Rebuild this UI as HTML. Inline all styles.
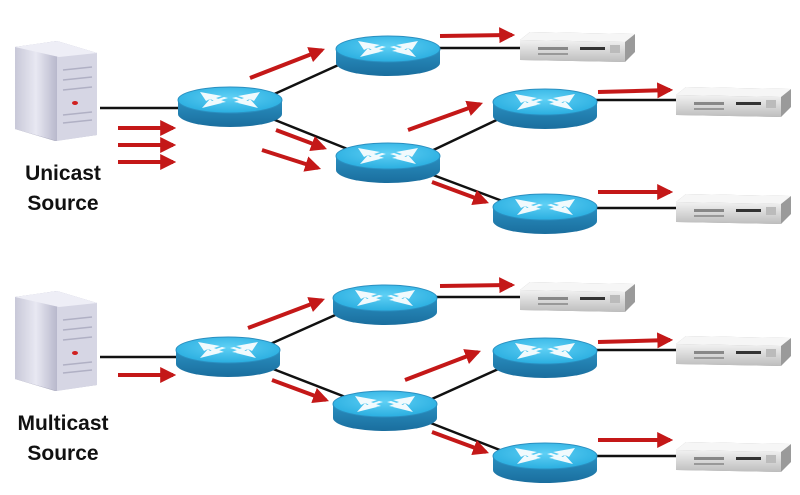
<!DOCTYPE html>
<html><head><meta charset="utf-8"><style>
html,body{margin:0;padding:0;background:#fff;}
svg{display:block;}
text{font-family:"Liberation Sans",sans-serif;font-weight:bold;font-size:21px;fill:#111;}
</style></head><body>
<svg width="800" height="495" viewBox="0 0 800 495" xmlns="http://www.w3.org/2000/svg">
<defs>
<linearGradient id="rside" x1="0" x2="0" y1="0" y2="1"><stop offset="0" stop-color="#2a8fc0"/><stop offset="1" stop-color="#1a6e9e"/></linearGradient>
<radialGradient id="rtop" cx="0.5" cy="0.4" r="0.6"><stop offset="0" stop-color="#5fd0f5"/><stop offset="1" stop-color="#2aaee0"/></radialGradient>
<linearGradient id="tw" x1="0" x2="1"><stop offset="0" stop-color="#c8c8d8"/><stop offset="0.5" stop-color="#e8e8f2"/><stop offset="1" stop-color="#b8b8cc"/></linearGradient>
<linearGradient id="rk" x1="0" x2="0" y1="0" y2="1"><stop offset="0" stop-color="#f2f2f2"/><stop offset="1" stop-color="#bdbdbd"/></linearGradient>
<marker id="ah" viewBox="0 0 10 10" refX="8" refY="5" markerWidth="4" markerHeight="4" orient="auto"><path d="M0,0 L10,5 L0,10 z" fill="#c41818"/></marker>
<g id="router">
<path d="M-52,-6 L-52,8 A52,13 0 0 0 52,8 L52,-6 Z" fill="url(#rside)"/>
<ellipse cx="0" cy="-6" rx="52" ry="13" fill="url(#rtop)" stroke="#2a8fc0" stroke-width="1"/>
<g fill="#fff" opacity="0.92">
<path d="M-30,-14 L-8,-10 L-14,-8 L-4,-4 L-10,-3 L-20,-7 L-24,-5 Z"/>
<path d="M30,-14 L8,-10 L14,-8 L4,-4 L10,-3 L20,-7 L24,-5 Z"/>
<path d="M-28,2 L-8,-3 L-12,-5 L-2,-8 L-6,-9 L-18,-5 L-20,-7 Z"/>
<path d="M28,2 L8,-3 L12,-5 L2,-8 L6,-9 L18,-5 L20,-7 Z"/>
</g>
</g>
<g id="tower">
<path d="M18,52 L60,46 L100,58 L100,140 L58,146 L18,134 Z" fill="#a8a8bc"/>
<path d="M18,52 L60,46 L60,146 L18,134 Z" fill="url(#tw)"/>
<path d="M60,46 L100,58 L100,140 L60,146 Z" fill="#d6d6e4"/>
<path d="M18,52 L60,46 L100,58 L62,62 Z" fill="#eeeef6"/>
<g stroke="#b0b0c4" stroke-width="1.5"><line x1="66" y1="75" x2="95" y2="72"/><line x1="66" y1="85" x2="95" y2="82"/><line x1="66" y1="95" x2="95" y2="92"/><line x1="66" y1="120" x2="95" y2="117"/><line x1="66" y1="128" x2="95" y2="125"/></g>
<ellipse cx="78" cy="108" rx="3" ry="2" fill="#d02020"/>
</g>
<g id="rack">
<path d="M0,8 L10,0 L115,2 L115,20 L105,30 L0,28 Z" fill="#9a9a9a"/>
<path d="M0,8 L105,10 L105,30 L0,28 Z" fill="url(#rk)"/>
<path d="M0,8 L10,0 L115,2 L105,10 Z" fill="#f6f6f6"/>
<rect x="18" y="15" width="30" height="3" fill="#888"/><rect x="18" y="21" width="30" height="2" fill="#999"/>
<rect x="60" y="15" width="25" height="3" fill="#333"/>
<rect x="90" y="13" width="10" height="8" fill="#bbb"/>
</g>
</defs>

<g stroke="#111" stroke-width="2.5" fill="none">
<line x1="100" y1="108" x2="180" y2="108"/>
<line x1="270" y1="96" x2="345" y2="62"/>
<line x1="270" y1="118" x2="350" y2="150"/>
<line x1="425" y1="154" x2="505" y2="116"/>
<line x1="425" y1="172" x2="505" y2="202"/>
<line x1="438" y1="48" x2="522" y2="48"/>
<line x1="596" y1="100" x2="680" y2="100"/>
<line x1="596" y1="208" x2="680" y2="208"/>

<line x1="100" y1="357" x2="180" y2="357"/>
<line x1="268" y1="345" x2="342" y2="312"/>
<line x1="268" y1="367" x2="348" y2="398"/>
<line x1="423" y1="403" x2="505" y2="366"/>
<line x1="423" y1="420" x2="505" y2="452"/>
<line x1="436" y1="297" x2="522" y2="297"/>
<line x1="596" y1="350" x2="680" y2="350"/>
<line x1="596" y1="456" x2="680" y2="456"/>
</g>

<g stroke="#c41818" stroke-width="4" marker-end="url(#ah)">
<line x1="118" y1="128" x2="173" y2="128"/>
<line x1="118" y1="145" x2="173" y2="145"/>
<line x1="118" y1="162" x2="173" y2="162"/>
<line x1="250" y1="78" x2="322" y2="50"/>
<line x1="276" y1="130" x2="324" y2="148"/>
<line x1="262" y1="150" x2="318" y2="168"/>
<line x1="440" y1="36" x2="512" y2="35"/>
<line x1="408" y1="130" x2="480" y2="104"/>
<line x1="432" y1="182" x2="486" y2="202"/>
<line x1="598" y1="92" x2="670" y2="90"/>
<line x1="598" y1="192" x2="670" y2="192"/>

<line x1="118" y1="375" x2="173" y2="375"/>
<line x1="248" y1="328" x2="322" y2="300"/>
<line x1="272" y1="380" x2="326" y2="400"/>
<line x1="440" y1="286" x2="512" y2="285"/>
<line x1="405" y1="380" x2="478" y2="352"/>
<line x1="432" y1="432" x2="486" y2="452"/>
<line x1="598" y1="342" x2="670" y2="340"/>
<line x1="598" y1="440" x2="670" y2="440"/>
</g>

<use href="#tower" x="-3" y="-5"/>
<use href="#tower" x="-3" y="245"/>

<use href="#router" x="230" y="106"/>
<use href="#router" x="388" y="55"/>
<use href="#router" x="388" y="162"/>
<use href="#router" x="545" y="108"/>
<use href="#router" x="545" y="213"/>

<use href="#router" x="228" y="356"/>
<use href="#router" x="385" y="304"/>
<use href="#router" x="385" y="410"/>
<use href="#router" x="545" y="357"/>
<use href="#router" x="545" y="462"/>

<use href="#rack" x="520" y="32"/>
<use href="#rack" x="676" y="87"/>
<use href="#rack" x="676" y="194"/>
<use href="#rack" x="520" y="282"/>
<use href="#rack" x="676" y="336"/>
<use href="#rack" x="676" y="442"/>

<text x="63" y="180" text-anchor="middle">Unicast</text>
<text x="63" y="210" text-anchor="middle">Source</text>
<text x="63" y="430" text-anchor="middle">Multicast</text>
<text x="63" y="460" text-anchor="middle">Source</text>
</svg>
</body></html>
